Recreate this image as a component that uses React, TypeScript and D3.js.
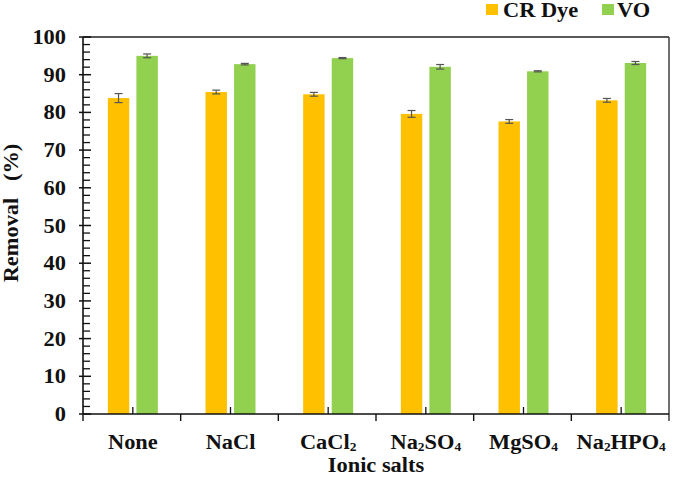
import * as d3 from "d3";

const categories = ["None", "NaCl", "CaCl2", "Na2SO4", "MgSO4", "Na2HPO4"];
const seriesNames = ["CR Dye", "VO"];
const seriesColors = ["#FFC000", "#92D050"];
const crDye = [83.8, 85.4, 84.8, 79.6, 77.6, 83.2];
const crDyeErr = [1.2, 0.5, 0.5, 0.9, 0.5, 0.5];
const vo = [95.0, 92.8, 94.4, 92.1, 90.9, 93.1];
const voErr = [0.5, 0.2, 0.15, 0.6, 0.15, 0.4];
const yTicks = [0, 10, 20, 30, 40, 50, 60, 70, 80, 90, 100];

const W = 674;
const H = 483;
const plot = { left: 83, right: 669, top: 37, bottom: 414 };
const FONT = "'Liberation Serif', 'Times New Roman', serif";
const STRETCH = 1.12;

// digits in formula labels render as subscripts
function Formula({ label, size }: { label: string; size: number }) {
  const parts = label.match(/[0-9]+|[^0-9]+/g) || [];
  let sub = false;
  return (
    <>
      {parts.map((p, i) => {
        const isDigit = /^[0-9]+$/.test(p);
        const dy = isDigit && !sub ? 1.5 : !isDigit && sub ? -1.5 : 0;
        sub = isDigit;
        return (
          <tspan key={i} dy={dy} fontSize={isDigit ? size * 0.6 : size}>
            {p}
          </tspan>
        );
      })}
    </>
  );
}

function Label({
  x,
  y,
  anchor = "start",
  size = 20,
  rotate = 0,
  children,
}: {
  x: number;
  y: number;
  anchor?: string;
  size?: number;
  rotate?: number;
  children: any;
}) {
  const tf = rotate
    ? `translate(${x},${y}) rotate(${rotate}) scale(${STRETCH},1)`
    : `translate(${x},${y}) scale(${STRETCH},1)`;
  return (
    <text
      transform={tf}
      textAnchor={anchor}
      fontFamily={FONT}
      fontWeight="bold"
      fontSize={size}
      fill="#111"
      style={{ whiteSpace: "pre" }}
    >
      {children}
    </text>
  );
}

export default function App() {
  const x = d3.scaleBand<string>().domain(categories).range([plot.left, plot.right]).padding(0);
  const inner = d3.scaleBand<string>().domain(seriesNames).range([0, 50]).paddingInner(0.25);
  const y = d3.scaleLinear().domain([0, 100]).range([plot.bottom, plot.top]);
  const minor = d3.range(0, 101, 2).filter((v) => v % 10 !== 0);
  const series = [
    { name: seriesNames[0], values: crDye, errs: crDyeErr, color: seriesColors[0] },
    { name: seriesNames[1], values: vo, errs: voErr, color: seriesColors[1] },
  ];
  const groupStart = (c: string) => (x(c) || 0) + x.bandwidth() / 2 - 25 + 1;

  return (
    <svg
      width={W}
      height={H}
      style={{ position: "absolute", left: 0, top: 0, background: "#fff" }}
    >
      {/* bars */}
      {series.map((s) =>
        categories.map((c, i) => (
          <rect
            key={s.name + c}
            x={groupStart(c) + (inner(s.name) || 0)}
            y={y(s.values[i])}
            width={inner.bandwidth()}
            height={y(0) - y(s.values[i])}
            fill={s.color}
          />
        ))
      )}

      {/* error bars */}
      {series.map((s) =>
        categories.map((c, i) => {
          const cx = groupStart(c) + (inner(s.name) || 0) + inner.bandwidth() / 2;
          const y1 = y(s.values[i] + s.errs[i]);
          const y2 = y(s.values[i] - s.errs[i]);
          return (
            <g key={"e" + s.name + c} stroke="#555" strokeWidth={1.2}>
              <line x1={cx} x2={cx} y1={y1} y2={y2} />
              <line x1={cx - 4} x2={cx + 4} y1={y1} y2={y1} />
              <line x1={cx - 4} x2={cx + 4} y1={y2} y2={y2} />
            </g>
          );
        })
      )}

      {/* frame */}
      <line x1={plot.left} x2={plot.right} y1={plot.top} y2={plot.top} stroke="#222" strokeWidth={1.4} />
      <line x1={plot.right} x2={plot.right} y1={plot.top} y2={plot.bottom + 7} stroke="#333" strokeWidth={1.4} />

      {/* y axis */}
      <line x1={plot.left} x2={plot.left} y1={plot.top} y2={plot.bottom} stroke="#111" strokeWidth={1.6} />
      {yTicks.map((t) => (
        <line key={"yt" + t} x1={plot.left - 4} x2={plot.left + 8} y1={y(t)} y2={y(t)} stroke="#111" strokeWidth={1.5} />
      ))}
      {minor.map((t) => (
        <line key={"ym" + t} x1={plot.left} x2={plot.left + 7} y1={y(t)} y2={y(t)} stroke="#111" strokeWidth={1.3} />
      ))}
      {yTicks.map((t) => (
        <Label key={"yl" + t} x={66} y={y(t) + 7} anchor="end">
          {t}
        </Label>
      ))}

      {/* x axis */}
      <line x1={plot.left} x2={plot.right} y1={plot.bottom} y2={plot.bottom} stroke="#111" strokeWidth={1.6} />
      {categories.map((c) => (
        <line key={"xb" + c} x1={x(c)} x2={x(c)} y1={plot.bottom} y2={plot.bottom + 7} stroke="#111" strokeWidth={1.4} />
      ))}
      {categories.map((c) => {
        const cx = (x(c) || 0) + x.bandwidth() / 2 + 1;
        return <line key={"xc" + c} x1={cx} x2={cx} y1={plot.bottom - 7} y2={plot.bottom} stroke="#111" strokeWidth={1.3} />;
      })}
      {categories.map((c) => (
        <Label key={"xl" + c} x={(x(c) || 0) + x.bandwidth() / 2 + 1} y={449} anchor="middle">
          <Formula label={c} size={20} />
        </Label>
      ))}

      {/* axis titles */}
      <Label x={(plot.left + plot.right) / 2} y={472} anchor="middle">
        Ionic salts
      </Label>
      <Label x={18} y={213} anchor="middle" rotate={-90}>
        {"Removal   (%)"}
      </Label>

      {/* legend */}
      <rect x={486} y={4} width={12} height={11} fill={seriesColors[0]} />
      <Label x={503} y={17}>{seriesNames[0]}</Label>
      <rect x={602} y={4} width={12} height={11} fill={seriesColors[1]} />
      <Label x={617} y={17}>{seriesNames[1]}</Label>
    </svg>
  );
}
